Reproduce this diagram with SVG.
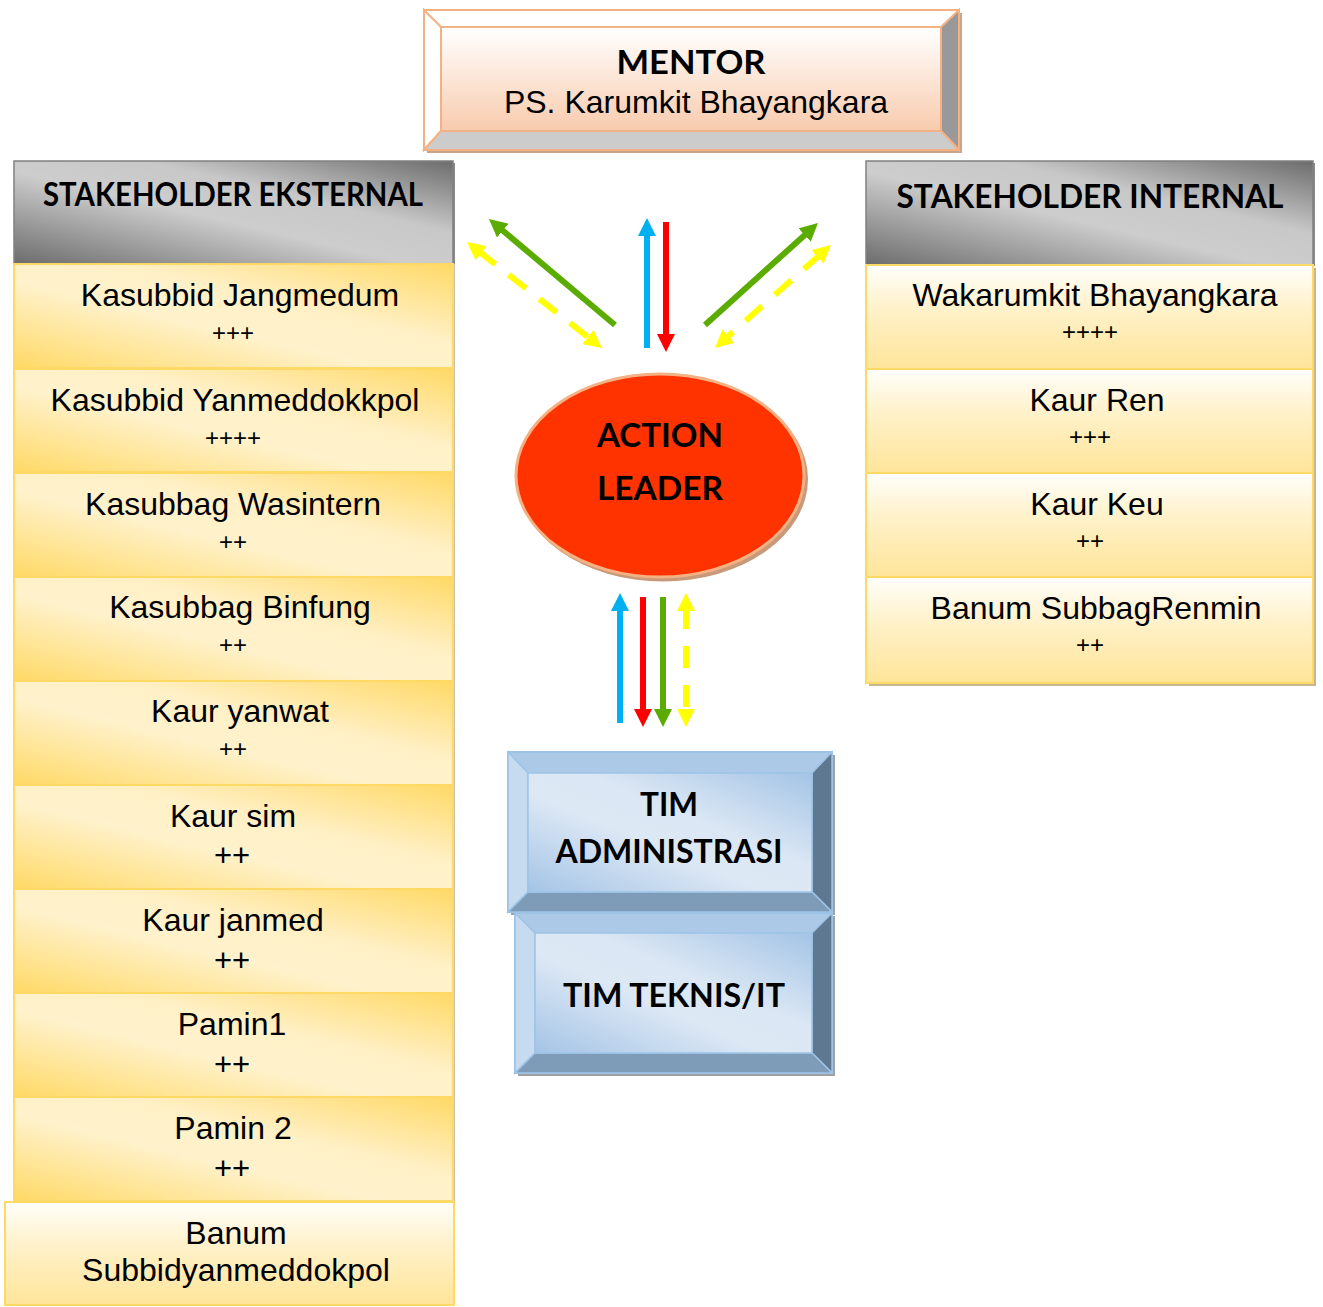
<svg xmlns="http://www.w3.org/2000/svg" width="1323" height="1307" viewBox="0 0 1323 1307">
  <style>
    .name { font-family: "Liberation Sans", Arial, sans-serif; font-size: 32px; fill: #000; text-anchor: middle; }
    .plus { font-family: "Liberation Sans", Arial, sans-serif; font-size: 24px; fill: #000; text-anchor: middle; }
    .plusL { font-family: "Liberation Sans", Arial, sans-serif; font-size: 31px; fill: #000; text-anchor: middle; }
    .title { font-family: Lato, "Open Sans", "Liberation Sans", sans-serif; font-weight: bold; font-size: 32px; fill: #000; text-anchor: middle; }
    .gold { fill: url(#gGold); stroke: #ffd966; stroke-width: 2; }
    .cream { fill: url(#gCream); stroke: #ffd966; stroke-width: 2; }
    .hdr { fill: url(#gGray); stroke: #808080; stroke-width: 1.5; }
    .arrow { fill: none; stroke-width: 6; }
    .dash { stroke-dasharray: 22 17; }
  </style>
  <defs>
    <linearGradient id="gGold" x1="0" y1="1" x2="1" y2="0">
      <stop offset="0" stop-color="#ffd966"/>
      <stop offset="0.42" stop-color="#fff2cc"/>
      <stop offset="0.62" stop-color="#fff0c6"/>
      <stop offset="1" stop-color="#ffd966"/>
    </linearGradient>
    <linearGradient id="gGray" x1="0" y1="1" x2="1" y2="0">
      <stop offset="0" stop-color="#6c6c6c"/>
      <stop offset="0.45" stop-color="#cdcdcd"/>
      <stop offset="0.65" stop-color="#c8c8c8"/>
      <stop offset="1" stop-color="#6c6c6c"/>
    </linearGradient>
    <linearGradient id="gCream" x1="0" y1="0" x2="0" y2="1">
      <stop offset="0" stop-color="#fffefb"/>
      <stop offset="0.4" stop-color="#fff2cc"/>
      <stop offset="1" stop-color="#ffe599"/>
    </linearGradient>
    <linearGradient id="gPeach" x1="0" y1="0" x2="0" y2="1">
      <stop offset="0" stop-color="#ffffff"/>
      <stop offset="1" stop-color="#f8cbad"/>
    </linearGradient>
    <linearGradient id="gBlue" x1="0" y1="1" x2="1" y2="0">
      <stop offset="0" stop-color="#a4c4e6"/>
      <stop offset="0.42" stop-color="#dde8f5"/>
      <stop offset="0.6" stop-color="#dbe7f4"/>
      <stop offset="1" stop-color="#a4c4e6"/>
    </linearGradient>
    <marker id="hBlue" viewBox="0 0 18 18" refX="4" refY="9" markerWidth="18" markerHeight="18" markerUnits="userSpaceOnUse" orient="auto-start-reverse">
      <path d="M0,0 L18,9 L0,18 z" fill="#00b0f0"/>
    </marker>
    <marker id="hRed" viewBox="0 0 18 18" refX="4" refY="9" markerWidth="18" markerHeight="18" markerUnits="userSpaceOnUse" orient="auto-start-reverse">
      <path d="M0,0 L18,9 L0,18 z" fill="#ff0000"/>
    </marker>
    <marker id="hGreen" viewBox="0 0 18 18" refX="4" refY="9" markerWidth="18" markerHeight="18" markerUnits="userSpaceOnUse" orient="auto-start-reverse">
      <path d="M0,0 L18,9 L0,18 z" fill="#5aac00"/>
    </marker>
    <marker id="hYellow" viewBox="0 0 18 18" refX="4" refY="9" markerWidth="18" markerHeight="18" markerUnits="userSpaceOnUse" orient="auto-start-reverse">
      <path d="M0,0 L18,9 L0,18 z" fill="#ffff00"/>
    </marker>
  </defs>

  <rect width="1323" height="1307" fill="#ffffff"/>

  <!-- Mentor: bevelled peach panel -->
  <g id="mentor">
    <rect x="427" y="13" width="535" height="140" fill="#c8a48b"/>
    <rect x="424" y="10" width="535" height="140" fill="#ffffff" stroke="#f4b183" stroke-width="2"/>
    <polygon points="424,10 441,27 441,131 424,150" fill="#ffffff" stroke="#f4b183" stroke-width="2"/>
    <polygon points="959,10 941,27 941,131 959,150" fill="#999999" stroke="#f4b183" stroke-width="2"/>
    <polygon points="424,150 441,131 941,131 959,150" fill="#cccccc" stroke="#f4b183" stroke-width="2"/>
    <rect x="441" y="27" width="500" height="104" fill="url(#gPeach)" stroke="#f4b183" stroke-width="2"/>
    <text class="title" x="691" y="74" font-size="33" textLength="149" lengthAdjust="spacingAndGlyphs">MENTOR</text>
    <text class="name" x="696" y="113">PS. Karumkit Bhayangkara</text>
  </g>

  <!-- External stakeholders column -->
  <g id="ext-header">
    <rect x="16" y="163" width="439" height="103" fill="#8a8a8a"/>
    <rect x="14" y="161" width="439" height="103" class="hdr"/>
    <text class="title" x="233" y="206" textLength="380" lengthAdjust="spacingAndGlyphs">STAKEHOLDER EKSTERNAL</text>
  </g>
  <g id="ext-shadow">
    <rect x="453" y="264" width="2" height="937" fill="#c9c0a8"/>
  </g>
  <g id="ext-1">
    <rect x="14" y="264" width="439" height="104" class="gold"/>
    <text class="name" x="240" y="306">Kasubbid Jangmedum</text>
    <text class="plus" x="233" y="341">+++</text>
  </g>
  <g id="ext-2">
    <rect x="14" y="369" width="439" height="103" class="gold"/>
    <text class="name" x="235" y="411">Kasubbid Yanmeddokkpol</text>
    <text class="plus" x="233" y="446">++++</text>
  </g>
  <g id="ext-3">
    <rect x="14" y="473" width="439" height="104" class="gold"/>
    <text class="name" x="233" y="515">Kasubbag Wasintern</text>
    <text class="plus" x="233" y="550">++</text>
  </g>
  <g id="ext-4">
    <rect x="14" y="577" width="439" height="104" class="gold"/>
    <text class="name" x="240" y="618">Kasubbag Binfung</text>
    <text class="plus" x="233" y="653">++</text>
  </g>
  <g id="ext-5">
    <rect x="14" y="681" width="439" height="104" class="gold"/>
    <text class="name" x="240" y="722">Kaur yanwat</text>
    <text class="plus" x="233" y="757">++</text>
  </g>
  <g id="ext-6">
    <rect x="14" y="785" width="439" height="104" class="gold"/>
    <text class="name" x="233" y="827">Kaur sim</text>
    <text class="plusL" x="232" y="866">++</text>
  </g>
  <g id="ext-7">
    <rect x="14" y="889" width="439" height="104" class="gold"/>
    <text class="name" x="233" y="931">Kaur janmed</text>
    <text class="plusL" x="232" y="971">++</text>
  </g>
  <g id="ext-8">
    <rect x="14" y="993" width="439" height="104" class="gold"/>
    <text class="name" x="232" y="1035">Pamin1</text>
    <text class="plusL" x="232" y="1075">++</text>
  </g>
  <g id="ext-9">
    <rect x="14" y="1097" width="439" height="104" class="gold"/>
    <text class="name" x="233" y="1139">Pamin 2</text>
    <text class="plusL" x="232" y="1179">++</text>
  </g>
  <g id="ext-10">
    <rect x="5" y="1202" width="449" height="103" class="cream"/>
    <text class="name" x="236" y="1244">Banum</text>
    <text class="name" x="236" y="1281">Subbidyanmeddokpol</text>
  </g>

  <!-- Internal stakeholders column -->
  <g id="int-header">
    <rect x="868" y="163" width="447" height="103" fill="#8a8a8a"/>
    <rect x="866" y="161" width="447" height="104" class="hdr"/>
    <text class="title" x="1090" y="208" textLength="387" lengthAdjust="spacingAndGlyphs">STAKEHOLDER INTERNAL</text>
  </g>
  <g id="int-shadow">
    <rect x="869" y="268" width="447" height="418" fill="#c4b68f"/>
  </g>
  <g id="int-1">
    <rect x="866" y="265" width="447" height="104" class="cream"/>
    <text class="name" x="1095" y="306">Wakarumkit Bhayangkara</text>
    <text class="plus" x="1090" y="340">++++</text>
  </g>
  <g id="int-2">
    <rect x="866" y="369" width="447" height="104" class="cream"/>
    <text class="name" x="1097" y="411">Kaur Ren</text>
    <text class="plus" x="1090" y="445">+++</text>
  </g>
  <g id="int-3">
    <rect x="866" y="473" width="447" height="104" class="cream"/>
    <text class="name" x="1097" y="515">Kaur Keu</text>
    <text class="plus" x="1090" y="549">++</text>
  </g>
  <g id="int-4">
    <rect x="866" y="577" width="447" height="106" class="cream"/>
    <text class="name" x="1096" y="619">Banum SubbagRenmin</text>
    <text class="plus" x="1090" y="653">++</text>
  </g>

  <!-- Action leader -->
  <g id="action-leader">
    <ellipse cx="663" cy="479" rx="145" ry="102.5" fill="#c99a7a"/>
    <ellipse cx="660" cy="475.5" rx="144" ry="101.5" fill="#ff3300" stroke="#f4b183" stroke-width="3"/>
    <text class="title" x="660" y="447" textLength="126" lengthAdjust="spacingAndGlyphs">ACTION</text>
    <text class="title" x="660" y="500" textLength="126" lengthAdjust="spacingAndGlyphs">LEADER</text>
  </g>

  <!-- Team boxes: bevelled blue panels -->
  <g id="tim-administrasi">
    <rect x="511" y="755" width="324" height="160" fill="#a0a0a0"/>
    <rect x="508" y="752" width="324" height="160" fill="#adc9e8" stroke="#9dc3e6" stroke-width="2"/>
    <polygon points="508,752 528,773 528,892 508,912" fill="#c6daf0" stroke="#9dc3e6" stroke-width="1.5"/>
    <polygon points="832,752 812,773 812,892 832,912" fill="#5f7891" stroke="#9dc3e6" stroke-width="1.5"/>
    <polygon points="508,912 528,892 812,892 832,912" fill="#7e9bb8" stroke="#9dc3e6" stroke-width="1.5"/>
    <rect x="528" y="773" width="284" height="119" fill="url(#gBlue)" stroke="#9dc3e6" stroke-width="1.5"/>
    <text class="title" x="669" y="816" textLength="58" lengthAdjust="spacingAndGlyphs">TIM</text>
    <text class="title" x="669" y="863" textLength="227" lengthAdjust="spacingAndGlyphs">ADMINISTRASI</text>
  </g>
  <g id="tim-teknis">
    <rect x="518" y="916" width="317" height="160" fill="#a0a0a0"/>
    <rect x="515" y="913" width="317" height="160" fill="#adc9e8" stroke="#9dc3e6" stroke-width="2"/>
    <polygon points="515,913 535,933 535,1053 515,1073" fill="#c6daf0" stroke="#9dc3e6" stroke-width="1.5"/>
    <polygon points="832,913 812,933 812,1053 832,1073" fill="#5f7891" stroke="#9dc3e6" stroke-width="1.5"/>
    <polygon points="515,1073 535,1053 812,1053 832,1073" fill="#7e9bb8" stroke="#9dc3e6" stroke-width="1.5"/>
    <rect x="535" y="933" width="277" height="120" fill="url(#gBlue)" stroke="#9dc3e6" stroke-width="1.5"/>
    <text class="title" x="674" y="1007" textLength="222" lengthAdjust="spacingAndGlyphs">TIM TEKNIS/IT</text>
  </g>

  <!-- Connectors -->
  <g id="connectors">
    <!-- toward external stakeholders -->
    <line class="arrow" x1="615" y1="325" x2="499.7" y2="228" stroke="#5aac00" marker-end="url(#hGreen)"/>
    <line class="arrow dash" x1="478" y1="250.7" x2="591" y2="339.4" stroke="#ffff00" marker-start="url(#hYellow)" marker-end="url(#hYellow)"/>
    <!-- toward mentor -->
    <line class="arrow" x1="647" y1="348" x2="647" y2="232" stroke="#00b0f0" marker-end="url(#hBlue)"/>
    <line class="arrow" x1="666" y1="222" x2="666" y2="338" stroke="#ff0000" marker-end="url(#hRed)"/>
    <!-- toward internal stakeholders -->
    <line class="arrow" x1="705" y1="325" x2="807.6" y2="232.4" stroke="#5aac00" marker-end="url(#hGreen)"/>
    <line class="arrow dash" x1="820.5" y1="254.3" x2="725.5" y2="338.7" stroke="#ffff00" marker-start="url(#hYellow)" marker-end="url(#hYellow)"/>
    <!-- toward teams -->
    <line class="arrow" x1="620" y1="723" x2="620" y2="607" stroke="#00b0f0" marker-end="url(#hBlue)"/>
    <line class="arrow" x1="643" y1="597" x2="643" y2="713" stroke="#ff0000" marker-end="url(#hRed)"/>
    <line class="arrow" x1="663" y1="597" x2="663" y2="713" stroke="#5aac00" marker-end="url(#hGreen)"/>
    <line class="arrow dash" x1="686" y1="607" x2="686" y2="713" stroke="#ffff00" marker-start="url(#hYellow)" marker-end="url(#hYellow)"/>
  </g>
</svg>
